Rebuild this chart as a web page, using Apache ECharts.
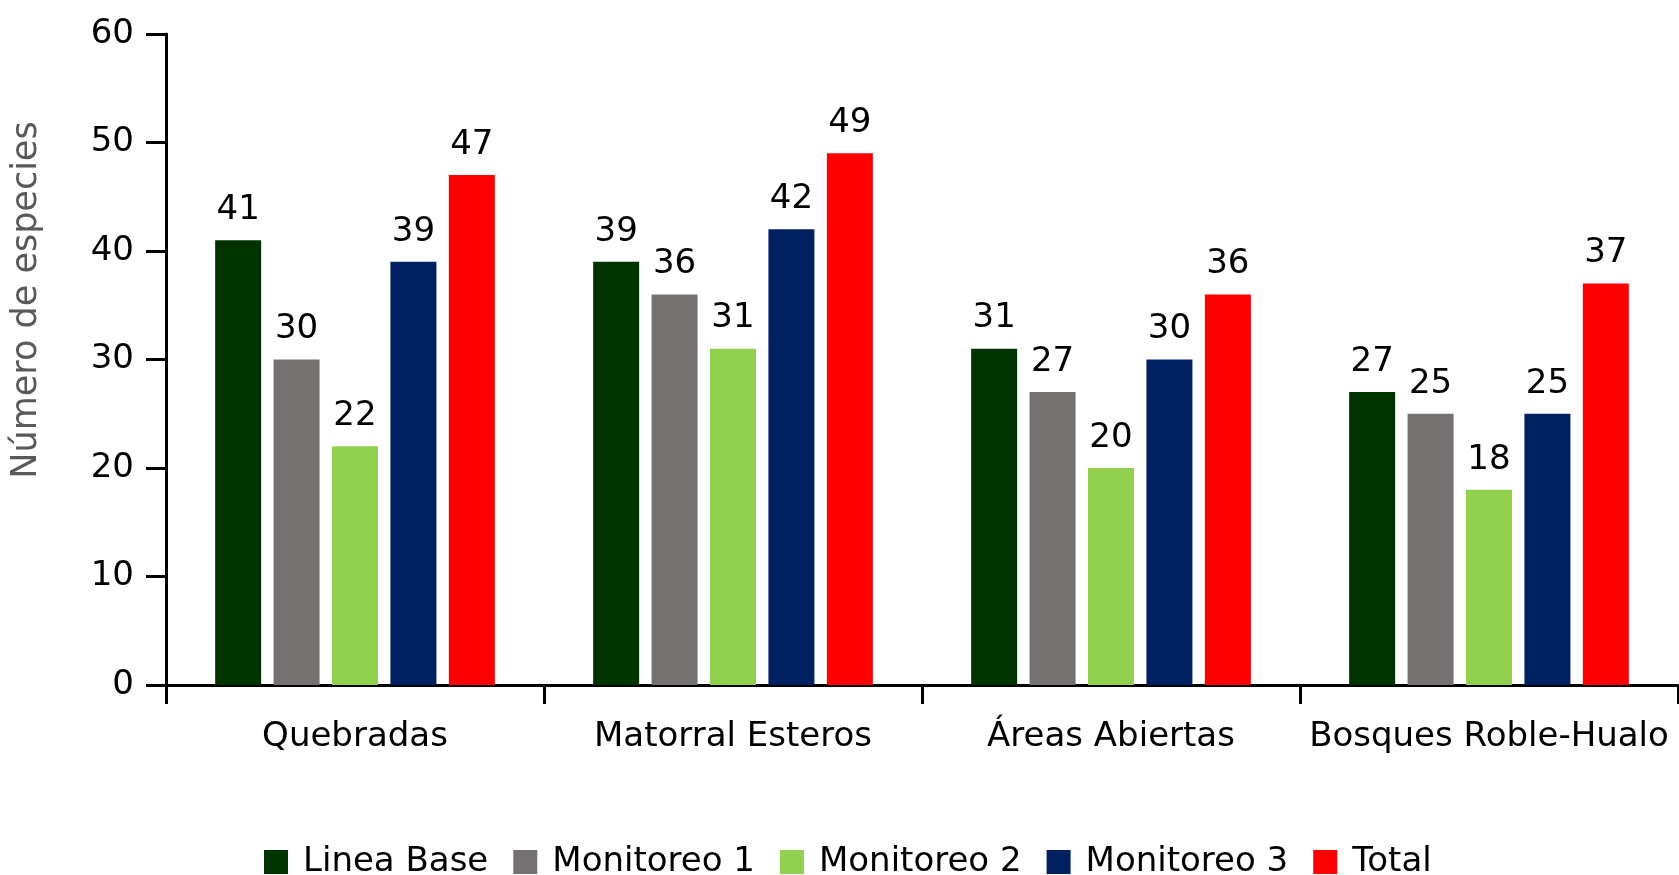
<!DOCTYPE html>
<html>
<head>
<meta charset="utf-8">
<script src="https://cdn.jsdelivr.net/npm/echarts@6/dist/echarts.min.js"></script>
<style>
html,body{margin:0;padding:0;background:#fff;}
#chart{width:1679px;height:875px;}
</style>
</head>
<body>
<div id="chart"></div>
<script>
const categories = ["Quebradas", "Matorral Esteros", "Áreas Abiertas", "Bosques Roble-Hualo"];
const seriesNames = ["Linea Base", "Monitoreo 1", "Monitoreo 2", "Monitoreo 3", "Total"];
const lineaBase = [41, 39, 31, 27];
const monitoreo1 = [30, 36, 27, 25];
const monitoreo2 = [22, 31, 20, 18];
const monitoreo3 = [39, 42, 30, 25];
const total = [47, 49, 36, 37];
const colors = ["#003300", "#767171", "#92D050", "#002060", "#FF0000"];
const yTicks = [0, 10, 20, 30, 40, 50, 60];
const yTitle = "Número de especies";

const values = [lineaBase, monitoreo1, monitoreo2, monitoreo3, total];
const FONT = "DejaVu Sans";

const chart = echarts.init(document.getElementById('chart'));
chart.setOption({
  animation: false,
  backgroundColor: '#fff',
  textStyle: { fontFamily: FONT },
  grid: { left: 166, top: 34, right: 1, bottom: 190, containLabel: false },
  legend: {
    data: seriesNames,
    left: 259,
    top: 840,
    itemWidth: 24,
    itemHeight: 24,
    itemGap: 25,
    icon: 'rect',
    textStyle: { fontFamily: FONT, fontSize: 34, color: '#000', padding: [0, 0, 0, 10] }
  },
  graphic: [{
    type: 'text',
    x: 27,
    y: 300,
    rotation: Math.PI / 2,
    style: {
      text: yTitle,
      fontFamily: FONT,
      fontSize: 35,
      fill: '#595959',
      textAlign: 'center',
      textVerticalAlign: 'middle'
    }
  }],
  xAxis: {
    type: 'category',
    data: categories,
    axisLine: { lineStyle: { color: '#000', width: 3 } },
    axisTick: { show: true, interval: 0, length: 19, lineStyle: { color: '#000', width: 3 } },
    axisLabel: { interval: 0, fontFamily: FONT, fontSize: 34, color: '#000', margin: 35 }
  },
  yAxis: {
    type: 'value',
    min: yTicks[0],
    max: yTicks[yTicks.length - 1],
    interval: 10,
    splitLine: { show: false },
    axisLine: { show: true, lineStyle: { color: '#000', width: 3 } },
    axisTick: { show: true, length: 20, lineStyle: { color: '#000', width: 3 } },
    axisLabel: { fontFamily: FONT, fontSize: 34, color: '#000', margin: 32 }
  },
  series: seriesNames.map((name, i) => ({
    name: name,
    type: 'bar',
    data: values[i],
    barWidth: 46,
    barGap: '27%',
    itemStyle: { color: colors[i] },
    label: {
      show: true,
      position: 'top',
      distance: 13,
      fontFamily: FONT,
      fontSize: 34,
      color: '#000'
    }
  }))
});
</script>
</body>
</html>
